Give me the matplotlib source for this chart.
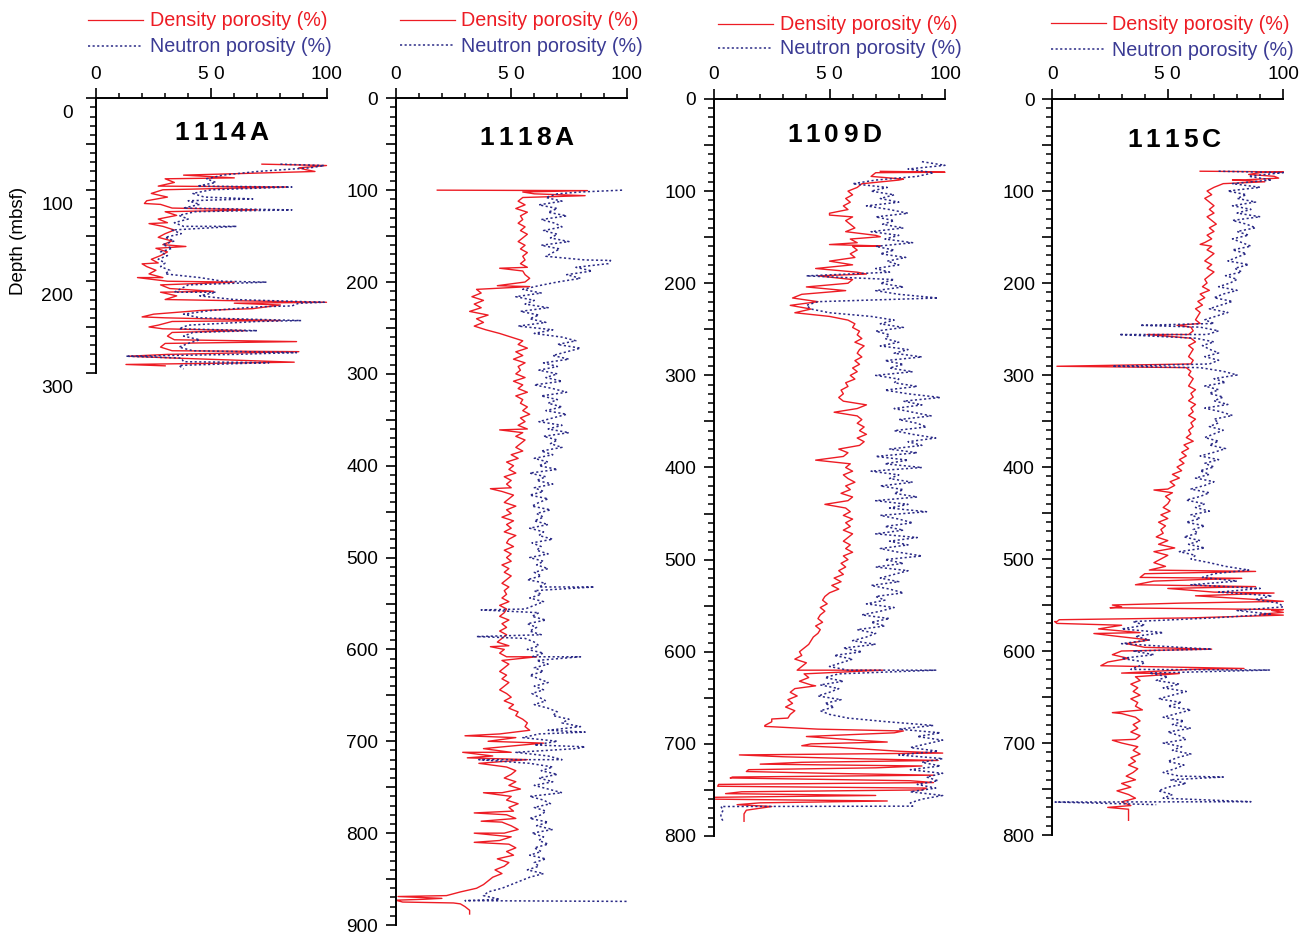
import numpy as np
import matplotlib
matplotlib.use("Agg")
import matplotlib.pyplot as plt
from matplotlib.lines import Line2D
from matplotlib.ticker import MultipleLocator, FixedLocator, FixedFormatter, FuncFormatter
import matplotlib.transforms as mtransforms

plt.rcParams['font.family'] = ['Liberation Sans', 'DejaVu Sans']

RED = '#ed1c24'
BLUE = '#2a2a86'
BLUE_TXT = '#3b3b94'

WELLS = ['1114A', '1118A', '1109D', '1115C']
MAX_DEPTH = [300, 900, 800, 800]
X_TICKS = [0, 50, 100]
X_TICK_LABELS = ['0', '5 0', '100']
LEGEND_LABELS = ['Density porosity (%)', 'Neutron porosity (%)']
Y_LABEL = 'Depth (mbsf)'
STEP = 4  # log sampling interval used for the read-off values (m)

# ---------------- 1114A ----------------
DEN_1114A_START = 72
DEN_1114A = [72, 88, 95, 38, 30, 34, 27, 29, 24, 31,
             22, 28, 33, 30, 35, 27, 31, 29, 34, 30,
             27, 33, 29, 26, 31, 28, 24, 27, 22, 26,
             23, 29, 31, 28, 32, 28, 35, 30, 60, 74,
             45, 25, 30, 33, 27, 29, 33, 31, 34, 30,
             28, 33, 31, 34]
DEN_1114A_SPIKES = [(73.5, 100), (78, 91), (87, 60), (97, 83), (115, 21), (122, 70),
                    (137, 23), (162, 39), (181, 20), (196, 18), (201, 60), (211, 51),
                    (223, 100), (226, 80), (230, 68), (239, 20), (243, 80), (250, 23),
                    (254, 65), (266, 87), (277, 88), (282, 14), (288.5, 86), (291, 13),
                    (292.5, 30)]
NEU_1114A_START = 72
NEU_1114A = [80, 93, 70, 55, 48, 52, 44, 50, 42, 47,
             40, 45, 38, 43, 36, 40, 34, 38, 33, 37,
             30, 34, 29, 33, 28, 31, 27, 30, 28, 32,
             30, 45, 55, 40, 37, 34, 45, 60, 88, 70,
             50, 38, 45, 70, 40, 36, 42, 38, 45, 40,
             36, 42, 60, 37, 38, 36, 38]
NEU_1114A_SPIKES = [(73.5, 99), (97, 85), (110, 68), (122, 85), (140, 61), (201, 74),
                    (212, 52), (223, 99), (227, 85), (243, 89), (254, 70), (278, 87),
                    (282, 13), (289, 75)]

# ---------------- 1118A ----------------
DEN_1118A_START = 100
DEN_1118A = [18, 60, 55, 53, 56, 52, 57, 54, 55, 53,
             56, 54, 57, 55, 53, 56, 54, 57, 55, 56,
             54, 57, 55, 56, 58, 56, 44, 35, 37, 33,
             38, 34, 37, 32, 40, 35, 38, 34, 39, 45,
             50, 55, 53, 57, 52, 55, 51, 56, 53, 54,
             52, 56, 51, 55, 53, 57, 52, 55, 54, 57,
             55, 58, 54, 56, 53, 57, 55, 52, 56, 54,
             52, 55, 50, 53, 48, 51, 49, 52, 47, 50,
             48, 50, 46, 51, 49, 47, 52, 48, 50, 46,
             51, 48, 50, 47, 52, 49, 48, 51, 47, 50,
             48, 50, 46, 49, 47, 50, 48, 46, 49, 47,
             48, 46, 49, 45, 48, 47, 45, 49, 46, 48,
             45, 48, 46, 44, 49, 47, 45, 48, 46, 49,
             47, 45, 48, 46, 49, 47, 45, 48, 50, 47,
             51, 49, 53, 52, 55, 57, 56, 58, 45, 52,
             40, 55, 38, 50, 42, 57, 36, 48, 52, 50,
             47, 52, 49, 54, 46, 50, 48, 53, 49, 51,
             48, 52, 46, 50, 53, 47, 50, 45, 49, 52,
             48, 51, 44, 49, 47, 43, 46, 42, 40, 38,
             35, 28, 22, 12, 25, 30, 32, 32]
DEN_1118A_SPIKES = [(100.5, 83), (102, 55), (106, 82), (185, 45), (205, 58), (361, 45),
                    (425, 41), (597, 41), (608, 61), (694, 30), (702, 64), (712, 29),
                    (718, 31), (756, 38), (778, 34), (787, 37), (800, 34), (810, 34),
                    (869, 1), (871, 20), (873, 0), (875, 3), (877, 28)]
NEU_1118A_START = 100
NEU_1118A = [98, 70, 65, 72, 62, 70, 66, 74, 63, 69,
             72, 64, 70, 67, 75, 63, 71, 68, 65, 82,
             92, 78, 85, 74, 80, 70, 62, 55, 63, 52,
             60, 56, 66, 54, 62, 58, 65, 53, 68, 60,
             72, 78, 70, 80, 74, 68, 75, 64, 70, 62,
             70, 65, 72, 60, 68, 74, 63, 70, 66, 72,
             65, 74, 68, 62, 72, 66, 75, 64, 70, 67,
             72, 63, 68, 60, 66, 62, 70, 58, 65, 61,
             68, 60, 64, 58, 66, 62, 59, 67, 61, 64,
             60, 66, 58, 64, 62, 68, 59, 63, 61, 66,
             58, 64, 61, 66, 60, 63, 57, 65, 62, 60,
             63, 58, 64, 60, 56, 62, 59, 65, 57, 61,
             58, 63, 56, 60, 62, 57, 64, 59, 61, 66,
             60, 64, 58, 62, 66, 60, 64, 59, 62, 65,
             60, 66, 70, 68, 75, 72, 80, 66, 62, 55,
             70, 60, 78, 52, 66, 72, 58, 68, 63, 70,
             62, 68, 60, 66, 72, 58, 64, 67, 60, 65,
             63, 58, 66, 61, 68, 59, 64, 62, 66, 60,
             63, 58, 65, 60, 62, 57, 64, 58, 54, 50,
             46, 40, 38, 45]
NEU_1118A_SPIKES = [(102, 80), (176.5, 93), (532, 86), (557, 37), (586, 35), (608, 80),
                    (690, 82), (706, 82), (720, 36), (873.5, 30), (874.3, 100)]

# ---------------- 1109D ----------------
DEN_1109D_START = 80
DEN_1109D = [70, 68, 80, 64, 62, 58, 60, 57, 59, 56,
             58, 50, 60, 57, 59, 61, 57, 70, 59, 62,
             60, 62, 59, 61, 50, 60, 44, 62, 45, 60,
             58, 40, 57, 38, 34, 45, 33, 42, 35, 50,
             58, 61, 60, 63, 62, 64, 61, 65, 63, 62,
             64, 61, 63, 60, 62, 59, 61, 57, 58, 55,
             56, 54, 56, 66, 62, 52, 62, 64, 62, 65,
             63, 66, 62, 65, 63, 54, 58, 56, 44, 59,
             57, 60, 56, 58, 61, 57, 59, 55, 60, 58,
             48, 57, 59, 56, 60, 57, 59, 56, 60, 58,
             56, 59, 57, 60, 56, 58, 55, 57, 54, 56,
             52, 55, 51, 54, 50, 48, 47, 49, 46, 48,
             46, 45, 47, 44, 46, 45, 43, 42, 41, 39,
             37, 38, 35, 40, 38, 36, 39, 41, 37, 42,
             35, 33, 36, 32, 34, 31, 35, 33, 32, 25,
             22, 45, 78, 40, 62, 42, 55, 80, 11, 60,
             38, 90, 15, 50, 8, 85, 2, 92, 12, 70,
             0, 20, 25, 14, 13, 13, 13]
DEN_1109D_SPIKES = [(78.5, 72), (79.5, 100), (87, 82), (126, 50), (149.5, 72), (158, 50),
                    (159.5, 72), (183, 48), (190, 66), (620, 73), (637, 44), (673, 25),
                    (681, 22), (686, 82), (698, 75), (702, 38), (710, 99), (714, 30),
                    (718, 97), (722, 20), (726, 70), (730, 14), (734, 95), (737, 7),
                    (742, 95), (746, 1.6), (750, 90), (754, 5), (758, 0), (762, 75),
                    (766, 10)]
NEU_1109D_START = 68
NEU_1109D = [90, 100, 84, 95, 88, 70, 60, 75, 68, 78,
             72, 80, 66, 76, 84, 70, 78, 73, 82, 68,
             80, 74, 86, 70, 78, 72, 83, 75, 80, 70,
             76, 40, 78, 72, 82, 70, 80, 97, 45, 40,
             42, 50, 68, 78, 72, 82, 70, 76, 74, 80,
             72, 84, 78, 90, 74, 82, 76, 86, 70, 80,
             78, 88, 74, 84, 98, 82, 90, 78, 86, 94,
             80, 88, 92, 78, 86, 96, 84, 90, 76, 88,
             70, 84, 74, 90, 68, 80, 76, 86, 72, 82,
             78, 88, 70, 84, 76, 92, 72, 80, 86, 74,
             82, 70, 88, 76, 84, 72, 80, 90, 74, 82,
             70, 84, 78, 72, 80, 68, 76, 82, 70, 74,
             66, 78, 72, 64, 76, 68, 74, 62, 70, 66,
             60, 70, 56, 64, 52, 60, 55, 50, 58, 54,
             48, 56, 46, 54, 50, 45, 55, 48, 52, 46,
             50, 58, 75, 95, 80, 98, 88, 99, 92, 85,
             97, 80, 99, 90, 98, 85, 99, 92, 97, 88,
             96, 85, 99, 90, 85, 3, 4, 3, 3, 4]
NEU_1109D_SPIKES = [(620, 96), (767.6, 86)]

# ---------------- 1115C ----------------
DEN_1115C_START = 80
DEN_1115C = [90, 96, 82, 74, 70, 67, 69, 66, 68, 70,
             68, 70, 67, 69, 71, 68, 70, 67, 69, 66,
             69, 67, 70, 68, 66, 69, 67, 70, 68, 66,
             67, 65, 68, 64, 66, 63, 65, 62, 64, 63,
             62, 64, 60, 61, 59, 60, 62, 59, 61, 60,
             59, 61, 60, 58, 60, 59, 61, 60, 59, 62,
             60, 61, 59, 62, 60, 61, 59, 62, 60, 61,
             59, 60, 58, 61, 57, 59, 56, 58, 55, 57,
             54, 56, 52, 55, 51, 53, 50, 52, 49, 51,
             50, 48, 51, 47, 50, 46, 49, 47, 48, 45,
             50, 46, 53, 44, 50, 47, 44, 49, 42, 40,
             38, 44, 36, 50, 70, 62, 88, 55, 30, 95,
             90, 60, 2, 30, 20, 38, 28, 42, 32, 40,
             30, 26, 33, 24, 21, 60, 30, 36, 38, 34,
             37, 35, 38, 34, 37, 36, 39, 30, 36, 38,
             35, 37, 34, 38, 36, 30, 37, 35, 38, 34,
             36, 33, 37, 35, 32, 36, 30, 34, 28, 33,
             36, 30, 34, 33, 33, 33, 33]
DEN_1115C_SPIKES = [(78.5, 64), (79.2, 100), (82, 85), (86, 98), (88, 78), (90, 92),
                    (158, 64), (246, 54), (256, 41), (290.5, 2), (425, 44), (513.5, 88),
                    (521, 82), (530, 88), (537, 96), (546, 100), (550, 26), (553, 25),
                    (555, 100), (558, 100), (561, 100), (566, 3), (568, 1), (570, 2),
                    (581, 18), (598, 69), (619, 83), (624.5, 55), (667, 26), (697, 26),
                    (770, 24)]
NEU_1115C_START = 80
NEU_1115C = [100, 85, 95, 78, 90, 76, 84, 80, 88, 78,
             86, 80, 90, 78, 84, 88, 80, 85, 78, 82,
             86, 78, 84, 80, 76, 85, 79, 82, 75, 80,
             77, 72, 80, 74, 70, 78, 73, 68, 76, 71,
             66, 70, 64, 72, 67, 62, 70, 65, 68, 72,
             66, 72, 68, 64, 74, 80, 70, 75, 66, 72,
             68, 74, 70, 76, 66, 73, 78, 70, 72, 68,
             74, 70, 66, 72, 68, 75, 70, 64, 72, 66,
             70, 64, 68, 62, 70, 66, 60, 68, 64, 58,
             66, 62, 68, 60, 64, 58, 66, 61, 63, 57,
             64, 59, 66, 55, 62, 60, 68, 75, 85, 70,
             65, 80, 60, 90, 72, 95, 88, 98, 100, 80,
             95, 70, 35, 40, 30, 48, 36, 42, 30, 55,
             35, 44, 30, 40, 38, 34, 42, 50, 45, 55,
             48, 58, 52, 46, 56, 50, 60, 54, 48, 57,
             52, 60, 50, 55, 58, 48, 56, 52, 60, 54,
             50, 57, 53, 48, 55, 51, 58, 50, 46, 52,
             48]
NEU_1115C_SPIKES = [(78.5, 72), (246, 38), (256, 29), (290.5, 26), (598, 69),
                    (620.7, 94), (737, 74), (763.8, 86), (764.2, 1.2), (767, 45)]

LOGS = [
    (DEN_1114A_START, DEN_1114A, DEN_1114A_SPIKES, NEU_1114A_START, NEU_1114A, NEU_1114A_SPIKES),
    (DEN_1118A_START, DEN_1118A, DEN_1118A_SPIKES, NEU_1118A_START, NEU_1118A, NEU_1118A_SPIKES),
    (DEN_1109D_START, DEN_1109D, DEN_1109D_SPIKES, NEU_1109D_START, NEU_1109D, NEU_1109D_SPIKES),
    (DEN_1115C_START, DEN_1115C, DEN_1115C_SPIKES, NEU_1115C_START, NEU_1115C, NEU_1115C_SPIKES),
]


def build(start, vals, spikes):
    d = start + STEP * np.arange(len(vals), dtype=float)
    v = np.asarray(vals, dtype=float)
    if spikes:
        sd, sv = zip(*spikes)
        d = np.concatenate([d, np.asarray(sd, float)])
        v = np.concatenate([v, np.asarray(sv, float)])
    o = np.argsort(d, kind='stable')
    return d[o], v[o]


W, H = 1300, 933
fig = plt.figure(figsize=(W / 100, H / 100), dpi=100)

# panel geometry in pixels: left, top, width, bottom
PANEL_PX = [(96.0, 98.3, 230.5, 372.7),
            (395.7, 98.3, 231.0, 925.0),
            (714.0, 99.0, 231.0, 836.0),
            (1052.3, 99.0, 231.0, 835.0)]
TITLE_PX = [(221.7, 140.0), (526.7, 145.0), (834.0, 141.7), (1174.0, 147.3)]
LEGEND_PX = [(88, 143, 150, 20, 46), (400, 455, 461, 20, 45),
             (718, 773, 780, 24, 48), (1051, 1106, 1112, 23, 49)]

NEU_DASH = (0, (1.4, 1.6))
TITLE_PT = 19.0
TITLE_GAP_PX = 4.0
# advance widths (em) for Liberation Sans Bold glyphs used in the titles
ADV_EM = {'A': 0.722, 'C': 0.722, 'D': 0.722}


def fx(x):
    return x / W


def fy(y):
    return 1 - y / H


def spaced_title(cx, baseline, text):
    em = TITLE_PT * 100 / 72.0
    advs = [ADV_EM.get(c, 0.556) * em for c in text]
    total = sum(advs) + TITLE_GAP_PX * (len(text) - 1)
    x = cx - total / 2
    for c, a in zip(text, advs):
        fig.text(fx(x), fy(baseline), c, ha='left', va='baseline',
                 fontsize=TITLE_PT, fontweight='bold', color='black')
        x += a + TITLE_GAP_PX


for i, well in enumerate(WELLS):
    l, t, w, b = PANEL_PX[i]
    ax = fig.add_axes([fx(l), fy(b), w / W, (b - t) / H])
    ds, dv, dspk, ns, nv, nspk = LOGS[i]
    dd, dvv = build(ds, dv, dspk)
    nd, nvv = build(ns, nv, nspk)
    ax.plot(dvv, dd, color=RED, lw=1.0, zorder=2, clip_on=False)
    ax.plot(nvv, nd, color=BLUE, lw=1.1, linestyle=NEU_DASH, zorder=3, clip_on=False)

    ax.set_xlim(0, 100)
    ax.set_ylim(MAX_DEPTH[i], 0)
    for s in ['right', 'bottom']:
        ax.spines[s].set_visible(False)
    for s in ['left', 'top']:
        ax.spines[s].set_linewidth(1.4)
    ax.patch.set_alpha(0)

    ax.xaxis.set_major_locator(FixedLocator(X_TICKS))
    ax.xaxis.set_major_formatter(FixedFormatter(X_TICK_LABELS))
    ax.xaxis.set_minor_locator(MultipleLocator(10))
    ax.yaxis.set_major_locator(MultipleLocator(50))
    ax.yaxis.set_minor_locator(MultipleLocator(10))
    ax.yaxis.set_major_formatter(FuncFormatter(
        lambda v, p: '%d' % v if abs(v % 100) < 1e-6 else ''))

    ax.tick_params(axis='x', which='both', top=True, bottom=False,
                   labeltop=True, labelbottom=False, direction='out')
    ax.tick_params(axis='x', which='major', length=7.3, width=1.2, pad=4,
                   labelsize=13.8)
    ax.tick_params(axis='x', which='minor', length=3.8, width=1.1)
    ax.tick_params(axis='y', which='major', length=7.3, width=1.2,
                   pad=9 if i == 0 else 5.5, labelsize=13.8, direction='out')
    ax.tick_params(axis='y', which='minor', length=4.3, width=1.1, direction='out')

    if i == 0:
        off = mtransforms.ScaledTranslation(0, -0.135, fig.dpi_scale_trans)
        for lab in ax.get_yticklabels():
            lab.set_transform(lab.get_transform() + off)

    tx, ty = TITLE_PX[i]
    spaced_title(tx, ty, well)

    x0, x1, xt, y1, y2 = LEGEND_PX[i]
    fig.add_artist(Line2D([fx(x0), fx(x1)], [fy(y1), fy(y1)], color=RED, lw=0.9))
    fig.add_artist(Line2D([fx(x0), fx(x1)], [fy(y2), fy(y2)], color=BLUE, lw=1.1,
                          linestyle=NEU_DASH))
    fig.text(fx(xt), fy(y1 + 6.5), LEGEND_LABELS[0], color=RED, fontsize=14.2,
             ha='left', va='baseline')
    fig.text(fx(xt), fy(y2 + 6.5), LEGEND_LABELS[1], color=BLUE_TXT, fontsize=14.2,
             ha='left', va='baseline')

fig.text(fx(19), fy(241), Y_LABEL, rotation=90, ha='center', va='center',
         fontsize=13.5, color='black')

fig.savefig('out.png', dpi=100)
